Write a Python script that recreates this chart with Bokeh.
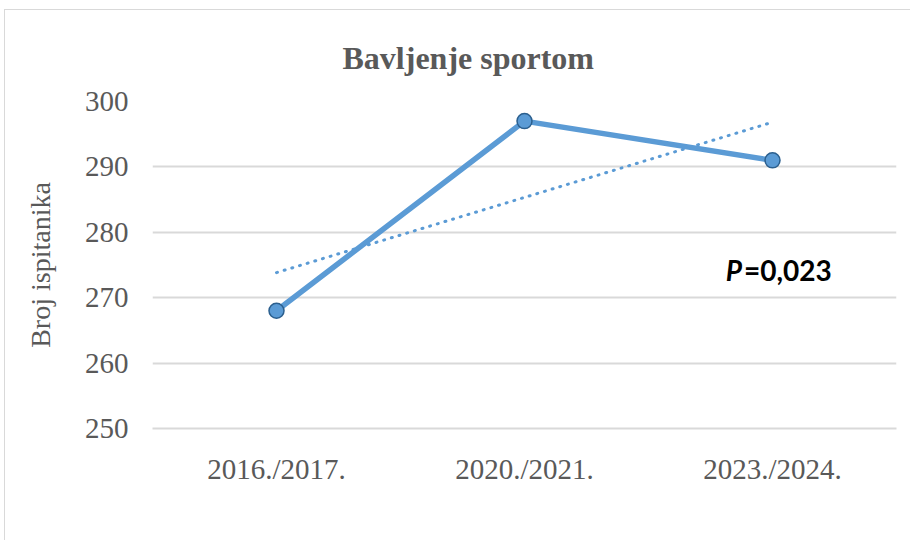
import numpy as np
from bokeh.plotting import figure
from bokeh.models import FactorRange, Label, Range1d, FixedTicker, Title
from bokeh.embed import file_html
from bokeh.resources import INLINE

categories = ["2016./2017.", "2020./2021.", "2023./2024."]
values = [268, 297, 291]
y_ticks = [250, 260, 270, 280, 290, 300]
title_text = "Bavljenje sportom"
y_label = "Broj ispitanika"
p_label = "P"
p_value = "=0,023"

# linear trendline (as in the spreadsheet chart)
idx = np.arange(len(values))
slope, intercept = np.polyfit(idx, values, 1)
trend = list(slope * idx + intercept)

BLUE = "#5B9BD5"
TXT = "#595959"
GRID = "#D9D9D9"

p = figure(x_range=FactorRange(*categories, range_padding=0),
           y_range=Range1d(250, 300),
           frame_width=744, frame_height=327,
           min_border_left=147, min_border_right=14,
           min_border_top=91, min_border_bottom=112,
           output_backend="svg", toolbar_location=None)
p.x_range.range_padding = 0
p.outline_line_color = None
p.styles = {"border-left": "1px solid #D9D9D9", "border-top": "1px solid #D9D9D9",
            "margin-left": "4px", "margin-top": "9px"}

p.xgrid.grid_line_color = None
p.ygrid.grid_line_color = GRID
p.ygrid.grid_line_width = 2
p.yaxis.ticker = FixedTicker(ticks=y_ticks)

for ax in (p.xaxis, p.yaxis):
    ax.major_tick_line_color = None
    ax.minor_tick_line_color = None
    ax.major_label_text_font = "Liberation Serif"
    ax.major_label_text_font_size = "29px"
    ax.major_label_text_color = TXT
p.yaxis.axis_line_color = None
p.xaxis.axis_line_color = GRID
p.xaxis.axis_line_width = 2
p.xaxis.major_label_standoff = 18
p.yaxis.major_label_standoff = 18
p.yaxis.axis_label = y_label
p.yaxis.axis_label_text_font = "Liberation Serif"
p.yaxis.axis_label_text_font_style = "normal"
p.yaxis.axis_label_text_font_size = "28px"
p.yaxis.axis_label_text_color = TXT
p.yaxis.axis_label_standoff = 26

p.add_layout(Title(text=title_text, text_font="Liberation Serif", text_font_style="bold",
                   text_font_size="32px", text_color=TXT, align="left",
                   offset=190, standoff=51), "above")

p.line(categories, trend, line_color=BLUE, line_width=3, line_dash="1 7", line_cap="round")
p.line(categories, values, line_color=BLUE, line_width=5.5, line_join="round")
p.scatter(categories, values, size=15, fill_color=BLUE, line_color="#2B5F8E", line_width=1.5)

p.add_layout(Label(x=2.311, y=274.3, text=p_label, text_font="Lato",
                   text_font_style="bold italic", text_font_size="28px", text_color="#000000",
                   text_align="left", text_baseline="middle"))
p.add_layout(Label(x=2.385, y=274.3, text=p_value, text_font="Lato",
                   text_font_style="bold", text_font_size="28px", text_color="#000000",
                   text_align="left", text_baseline="middle"))

open("out.html", "w").write(file_html(p, INLINE))
